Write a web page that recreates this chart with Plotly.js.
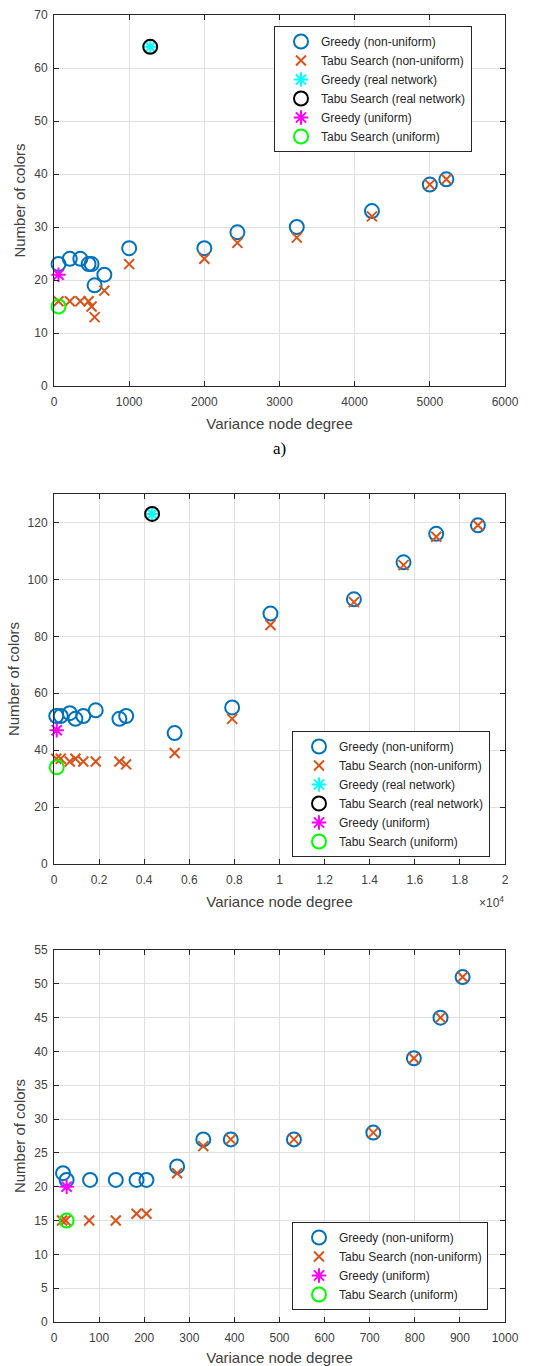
<!DOCTYPE html>
<html>
<head>
<meta charset="utf-8">
<script src="https://cdn.plot.ly/plotly-3.0.1.min.js"></script>
<style>html,body{margin:0;padding:0;background:#fff;}#chart{width:544px;height:1366px;}</style>
</head>
<body>
<div id="chart"></div>
<script>
// ---------- Panel a) ----------
const a_greedyNU_x = [60, 210, 350, 460, 500, 540, 670, 1000, 2000, 2440, 3230, 4230, 5000, 5220];
const a_greedyNU_y = [23, 24, 24, 23, 23, 19, 21, 26, 26, 29, 30, 33, 38, 39];
const a_tabuNU_x   = [60, 210, 350, 460, 500, 540, 670, 1000, 2000, 2440, 3230, 4230, 5000, 5220];
const a_tabuNU_y   = [16, 16, 16, 16, 15, 13, 18, 23, 24, 27, 28, 32, 38, 39];
const a_real_x = [1280];
const a_greedyReal_y = [64];
const a_tabuReal_y = [64];
const a_uni_x = [60];
const a_greedyUni_y = [21];
const a_tabuUni_y = [15];

// ---------- Panel 2 ----------
const b_greedyNU_x = [100, 300, 700, 950, 1300, 1850, 2900, 3200, 5350, 7900, 9600, 13300, 15500, 16950, 18800];
const b_greedyNU_y = [52, 52, 53, 51, 52, 54, 51, 52, 46, 55, 88, 93, 106, 116, 119];
const b_tabuNU_x   = [100, 300, 700, 950, 1300, 1850, 2900, 3200, 5350, 7900, 9600, 13300, 15500, 16950, 18800];
const b_tabuNU_y   = [37, 37, 36, 37, 36, 36, 36, 35, 39, 51, 84, 92, 105, 115, 119];
const b_real_x = [4350];
const b_greedyReal_y = [123];
const b_tabuReal_y = [123];
const b_uni_x = [120];
const b_greedyUni_y = [47];
const b_tabuUni_y = [34];
const b_tickvals = [0, 2000, 4000, 6000, 8000, 10000, 12000, 14000, 16000, 18000, 20000];
const b_ticktext = ['0', '0.2', '0.4', '0.6', '0.8', '1', '1.2', '1.4', '1.6', '1.8', '2'];

// ---------- Panel 3 ----------
const c_greedyNU_x = [20, 28, 80, 137, 183, 205, 273, 331, 392, 532, 708, 798, 857, 906];
const c_greedyNU_y = [22, 21, 21, 21, 21, 21, 23, 27, 27, 27, 28, 39, 45, 51];
const c_tabuNU_x   = [18, 26, 78, 137, 183, 205, 273, 331, 392, 532, 708, 798, 857, 906];
const c_tabuNU_y   = [15, 15, 15, 15, 16, 16, 22, 26, 27, 27, 28, 39, 45, 51];
const c_uni_x = [28];
const c_greedyUni_y = [20];
const c_tabuUni_y = [15];

const names = ['Greedy (non-uniform)', 'Tabu Search (non-uniform)', 'Greedy (real network)',
               'Tabu Search (real network)', 'Greedy (uniform)', 'Tabu Search (uniform)'];

const BLUE = '#0072BD', ORANGE = '#D95319';
const mk = {
  greedyNU: {symbol: 'circle-open', size: 14, color: BLUE, line: {width: 2, color: BLUE}},
  tabuNU: {symbol: 'x-thin-open', size: 10, color: ORANGE, line: {width: 2, color: ORANGE}},
  greedyReal: {symbol: 'asterisk-open', size: 12, color: '#00FFFF', line: {width: 2, color: '#00FFFF'}},
  tabuReal: {symbol: 'circle-open', size: 14, color: '#000000', line: {width: 2, color: '#000000'}},
  greedyUni: {symbol: 'asterisk-open', size: 12, color: '#FF00FF', line: {width: 2, color: '#FF00FF'}},
  tabuUni: {symbol: 'circle-open', size: 14, color: '#00FF00', line: {width: 2, color: '#00FF00'}}
};

function tr(x, y, name, marker, ax, leg) {
  return {type: 'scatter', mode: 'markers', x: x, y: y, name: name, marker: marker,
          xaxis: 'x' + ax, yaxis: 'y' + ax, legend: leg, cliponaxis: false};
}

const data = [
  tr(a_greedyNU_x, a_greedyNU_y, names[0], mk.greedyNU, '', 'legend'),
  tr(a_tabuNU_x, a_tabuNU_y, names[1], mk.tabuNU, '', 'legend'),
  tr(a_real_x, a_greedyReal_y, names[2], mk.greedyReal, '', 'legend'),
  tr(a_real_x, a_tabuReal_y, names[3], mk.tabuReal, '', 'legend'),
  tr(a_uni_x, a_greedyUni_y, names[4], mk.greedyUni, '', 'legend'),
  tr(a_uni_x, a_tabuUni_y, names[5], mk.tabuUni, '', 'legend'),

  tr(b_greedyNU_x, b_greedyNU_y, names[0], mk.greedyNU, '2', 'legend2'),
  tr(b_tabuNU_x, b_tabuNU_y, names[1], mk.tabuNU, '2', 'legend2'),
  tr(b_real_x, b_greedyReal_y, names[2], mk.greedyReal, '2', 'legend2'),
  tr(b_real_x, b_tabuReal_y, names[3], mk.tabuReal, '2', 'legend2'),
  tr(b_uni_x, b_greedyUni_y, names[4], mk.greedyUni, '2', 'legend2'),
  tr(b_uni_x, b_tabuUni_y, names[5], mk.tabuUni, '2', 'legend2'),

  tr(c_greedyNU_x, c_greedyNU_y, names[0], mk.greedyNU, '3', 'legend3'),
  tr(c_tabuNU_x, c_tabuNU_y, names[1], mk.tabuNU, '3', 'legend3'),
  tr(c_uni_x, c_greedyUni_y, names[4], mk.greedyUni, '3', 'legend3'),
  tr(c_uni_x, c_tabuUni_y, names[5], mk.tabuUni, '3', 'legend3')
];

const W = 544, H = 1366;
const FONT = 'Liberation Sans, Arial, sans-serif';
const TXT = '#404040';
const xd = [54 / W, 505 / W];
function yd(top, bot) { return [1 - bot / H, 1 - top / H]; }

function xax(range, dtick, anchor, extra) {
  return Object.assign({
    domain: xd, range: range, dtick: dtick, tick0: 0, anchor: anchor,
    showgrid: true, gridcolor: '#e0e0e0', gridwidth: 1, zeroline: false,
    showline: true, linecolor: '#262626', linewidth: 1, mirror: 'ticks',
    ticks: 'inside', ticklen: 5, tickcolor: '#262626', ticklabelstandoff: 5,
    tickfont: {family: FONT, size: 12, color: TXT},
    title: {text: 'Variance node degree', font: {family: FONT, size: 15, color: TXT}, standoff: 10},
    automargin: false, fixedrange: true
  }, extra || {});
}
function yax(range, dtick, anchor, dom) {
  return {
    domain: dom, range: range, dtick: dtick, tick0: 0, anchor: anchor,
    showgrid: true, gridcolor: '#e0e0e0', gridwidth: 1, zeroline: false,
    showline: true, linecolor: '#262626', linewidth: 1, mirror: 'ticks',
    ticks: 'inside', ticklen: 5, tickcolor: '#262626', ticklabelstandoff: 3,
    tickfont: {family: FONT, size: 12, color: TXT},
    title: {text: 'Number of colors', font: {family: FONT, size: 15, color: TXT}, standoff: 4},
    automargin: false, fixedrange: true
  };
}
function leg(x, y) {
  return {x: x, y: y, xanchor: 'left', yanchor: 'top', xref: 'paper', yref: 'paper',
          bgcolor: '#ffffff', bordercolor: '#262626', borderwidth: 1, indentation: 6,
          font: {family: FONT, size: 12, color: '#262626'}, tracegroupgap: 0, itemwidth: 30};
}

const layout = {
  width: W, height: H,
  margin: {l: 0, r: 0, t: 0, b: 0},
  paper_bgcolor: '#ffffff', plot_bgcolor: '#ffffff',
  showlegend: true,
  xaxis: xax([0, 6000], 1000, 'y'),
  yaxis: yax([0, 70], 10, 'x', yd(15, 386)),
  xaxis2: xax([0, 20000], null, 'y2', {tickmode: 'array', tickvals: b_tickvals, ticktext: b_ticktext}),
  yaxis2: yax([0, 130], 20, 'x2', yd(494, 864)),
  xaxis3: xax([0, 1000], 100, 'y3'),
  yaxis3: yax([0, 55], 5, 'x3', yd(950, 1322)),
  legend: leg(274 / W, 1 - 26 / H),
  legend2: leg(292 / W, 1 - 731 / H),
  legend3: leg(292 / W, 1 - 1222 / H),
  annotations: [
    {text: 'a)', xref: 'paper', yref: 'paper', x: 279 / W, y: 1 - 448 / H, xanchor: 'center', yanchor: 'middle',
     showarrow: false, font: {family: 'Liberation Serif, Times New Roman, serif', size: 17, color: '#000'}},
    {text: '\u00d710<sup>4</sup>', xref: 'paper', yref: 'paper', x: 506 / W, y: 1 - 902 / H, xanchor: 'right', yanchor: 'middle',
     showarrow: false, font: {family: FONT, size: 12, color: TXT}}
  ]
};

Plotly.newPlot('chart', data, layout, {displayModeBar: false, responsive: false});
</script>
</body>
</html>
